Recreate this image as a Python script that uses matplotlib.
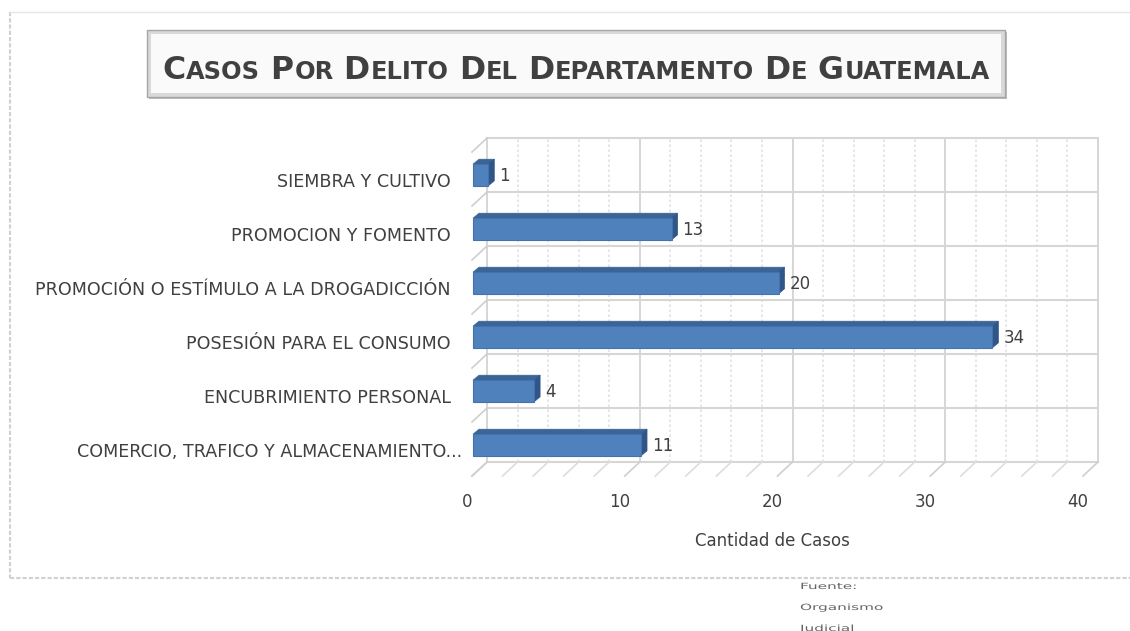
import numpy as np
import matplotlib.pyplot as plt
from matplotlib import transforms
from matplotlib.patches import Polygon, Rectangle, PathPatch
from matplotlib.textpath import TextPath

# datos
categorias = ["COMERCIO, TRAFICO Y ALMACENAMIENTO...", "ENCUBRIMIENTO PERSONAL  ",
              "POSESIÓN PARA EL CONSUMO  ", "PROMOCIÓN O ESTÍMULO A LA DROGADICCIÓN  ",
              "PROMOCION Y FOMENTO  ", "SIEMBRA Y CULTIVO  "]
casos = [11, 4, 34, 20, 13, 1]
xticks = [0, 10, 20, 30, 40]
titulo = [("C", "ASOS"), ("P", "OR"), ("D", "ELITO"), ("D", "EL"),
          ("D", "EPARTAMENTO"), ("D", "E"), ("G", "UATEMALA")]
fuente = ["Fuente:", "Organismo", "Judicial"]

W, H = 1130, 631
fig = plt.figure(figsize=(W / 100, H / 100), dpi=100)
fig.patch.set_facecolor("white")

def fx(px):
    return px / W

def fy(py):
    return 1 - py / H

# borde exterior del grafico
fig.add_artist(plt.Line2D([fx(10), fx(10)], [fy(12), fy(578)], color="#D0D0D0", lw=1.5, ls=(0, (2, 1))))
fig.add_artist(plt.Line2D([fx(10), fx(1130)], [fy(578), fy(578)], color="#D0D0D0", lw=1.5, ls=(0, (2, 1))))
fig.add_artist(plt.Line2D([fx(10), fx(1130)], [fy(12), fy(12)], color="#E6E6E6", lw=1))

# pared del fondo
ax = fig.add_axes([fx(487), fy(462), fx(1098) - fx(487), fy(138) - fy(462)])
ax.set_xlim(0, 40)
ax.set_ylim(-0.5, 5.5)
ax.patch.set_alpha(0)
for s in ax.spines.values():
    s.set_visible(False)

def off(dx, dy):
    return transforms.offset_copy(ax.transData, fig=fig, x=dx, y=dy, units="dots")

t_front = off(-15, -14)
t_bar = off(-14, -10)
t_bar_back = off(-8, -5)

# rejilla: pared del fondo, piso y pared izquierda
for x in range(0, 41, 2):
    mayor = x % 10 == 0
    c = "#D0D0D0" if mayor else "#E2E2E2"
    ls = "-" if mayor else (0, (1.5, 1.5))
    ax.plot([x, x], [-0.5, 5.5], color=c, lw=1.2, ls=ls, clip_on=False, zorder=1)
    p0 = ax.transData.transform((x, -0.5))
    p1 = t_front.transform((x, -0.5))
    fig.add_artist(plt.Line2D([p0[0], p1[0]], [p0[1], p1[1]], transform=None,
                              color="#CFCFCF" if mayor else "#DDDDDD", lw=1.2))
for y in np.arange(-0.5, 6, 1):
    ax.plot([0, 40], [y, y], color="#D6D6D6", lw=1.5, clip_on=False, zorder=1)
    p0 = ax.transData.transform((0, y))
    p1 = t_front.transform((0, y))
    fig.add_artist(plt.Line2D([p0[0], p1[0]], [p0[1], p1[1]], transform=None, color="#CFCFCF", lw=1.2))

# barras 3D
h = 0.2
for i, v in enumerate(casos):
    fl = t_bar.transform((0, i - h))
    fr = t_bar.transform((v, i + h))
    bl = t_bar_back.transform((0, i + h))
    br_top = t_bar_back.transform((v, i + h))
    br_bot = t_bar_back.transform((v, i - h))
    frente = Rectangle((fl[0], fl[1]), fr[0] - fl[0], fr[1] - fl[1], transform=None,
                       facecolor="#4F81BD", edgecolor="#4572AD", lw=0.8, zorder=5)
    arriba = Polygon([(fl[0], fr[1]), (fr[0], fr[1]), (br_top[0], br_top[1]), (bl[0], bl[1])],
                     closed=True, transform=None, facecolor="#3A6596", edgecolor="#3A6596", lw=0.5, zorder=5)
    lado = Polygon([(fr[0], fl[1]), (fr[0], fr[1]), (br_top[0], br_top[1]), (br_bot[0], br_bot[1])],
                   closed=True, transform=None, facecolor="#2F5687", edgecolor="#2F5687", lw=0.5, zorder=5)
    for p in (arriba, lado, frente):
        fig.add_artist(p)
    ax.text(v, i, str(v), transform=off(-3, -11), ha="left", va="center",
            fontsize=12, color="#404040", zorder=6)

# ejes
ax.set_yticks(range(len(categorias)))
ax.set_yticklabels(categorias)
ax.set_xticks(xticks)
ax.set_xticklabels([str(t) for t in xticks])
ax.tick_params(axis="both", length=0, labelcolor="#404040")
ax.tick_params(axis="y", pad=18, labelsize=12.6)
ax.tick_params(axis="x", pad=22, labelsize=12)
for lab in ax.get_yticklabels():
    lab.set_transform(lab.get_transform() + transforms.ScaledTranslation(0, -0.15, fig.dpi_scale_trans))
for lab in ax.get_xticklabels():
    lab.set_transform(lab.get_transform() + transforms.ScaledTranslation(-0.20, 0, fig.dpi_scale_trans))

fig.text(fx(772), fy(541), "Cantidad de Casos", ha="center", va="center", fontsize=12, color="#404040")

# caja del titulo
fig.add_artist(Rectangle((fx(149), fy(99)), fx(1007) - fx(149), fy(32) - fy(99), facecolor="#BDBDBD", edgecolor="none"))
fig.add_artist(Rectangle((fx(147), fy(97)), fx(1005) - fx(147), fy(30) - fy(97), facecolor="#D9D9D9", edgecolor="#A6A6A6", lw=1))
fig.add_artist(Rectangle((fx(151), fy(93)), fx(1001) - fx(151), fy(34) - fy(93), facecolor="#FAFAFA", edgecolor="none"))

# titulo en versalitas
renderer = fig.canvas.get_renderer()
piezas = []
x = 0
for grande, resto in titulo:
    t1 = fig.text(0, fy(79), grande, fontsize=22.7, fontweight="bold", color="#404040", va="baseline", ha="left")
    w1 = t1.get_window_extent(renderer).width
    t2 = fig.text(0, fy(79), resto, fontsize=17.4, fontweight="bold", color="#404040", va="baseline", ha="left")
    w2 = t2.get_window_extent(renderer).width
    piezas.append((t1, x))
    piezas.append((t2, x + w1 + 1))
    x += w1 + 1 + w2 + 10
total = x - 10
x0 = (147 + 1005) / 2 - total / 2
for t, px in piezas:
    t.set_x(fx(x0 + px))

# fuente
for k, linea in enumerate(fuente):
    tp = TextPath((0, 0), linea, size=9)
    tr = transforms.Affine2D().scale(1.7, 0.95).translate(800, H - 589 - k * 21)
    fig.add_artist(PathPatch(tp, transform=tr, facecolor="#666666", edgecolor="none"))

fig.savefig("out.png", dpi=100)
